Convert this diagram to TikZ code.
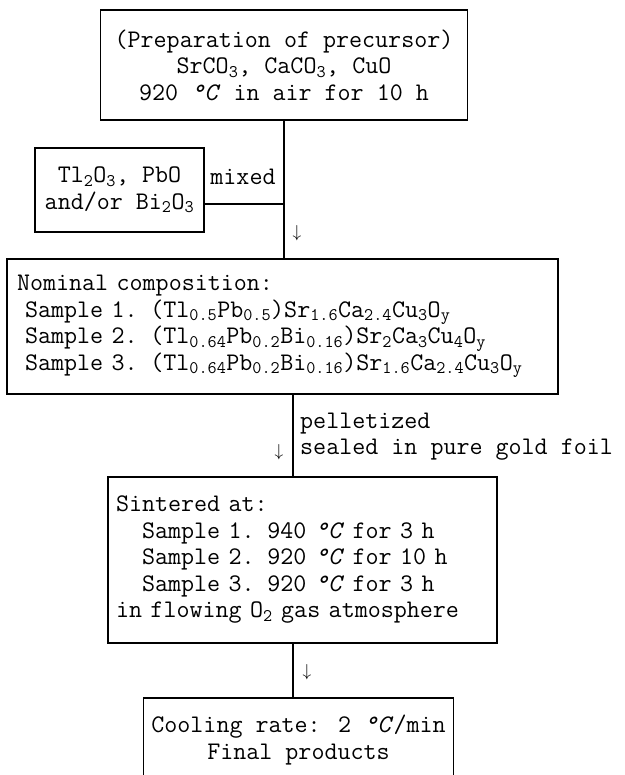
\documentclass[tikz,border=0pt]{standalone}
\newcommand\degC{\textit{°C}}
\tikzset{
  box/.style={draw, line width=1.1pt, inner xsep=8pt, inner ysep=0pt,
    font=\fontsize{25.3}{26.5}\selectfont\ttfamily},
  lbl/.style={inner sep=0pt, font=\fontsize{25.3}{26.5}\selectfont\ttfamily},
  arr/.style={inner sep=0pt, font=\fontsize{19}{19}\selectfont},
  conn/.style={line width=1.1pt}
}
\begin{document}
\begin{tikzpicture}[x=1pt,y=-1pt]
\useasboundingbox (0,0) rectangle (624,775);
\clip (0,0) rectangle (624,775);
% boxes
\node[box, align=center, minimum width=367pt, minimum height=110pt] (prec) at (284,65)
  {(Preparation of precursor)\\SrCO\textsubscript{3}, CaCO\textsubscript{3}, CuO\\920 \degC{} in air for 10 h};
\node[box, align=center, minimum width=169pt, minimum height=84pt] (side) at (119.5,190)
  {Tl\textsubscript{2}O\textsubscript{3}, PbO\\and/or Bi\textsubscript{2}O\textsubscript{3}};
\node[box, align=left, text width=531pt, inner xsep=10pt, minimum height=135pt] (nom) at (282.5,326.5)
  {Nominal composition:\\
   \hspace*{8pt}Sample 1. (Tl\textsubscript{0.5}Pb\textsubscript{0.5})Sr\textsubscript{1.6}Ca\textsubscript{2.4}Cu\textsubscript{3}O\textsubscript{y}\\
   \hspace*{8pt}Sample 2. (Tl\textsubscript{0.64}Pb\textsubscript{0.2}Bi\textsubscript{0.16})Sr\textsubscript{2}Ca\textsubscript{3}Cu\textsubscript{4}O\textsubscript{y}\\
   \hspace*{8pt}Sample 3. (Tl\textsubscript{0.64}Pb\textsubscript{0.2}Bi\textsubscript{0.16})Sr\textsubscript{1.6}Ca\textsubscript{2.4}Cu\textsubscript{3}O\textsubscript{y}};
\node[box, align=left, text width=373pt, minimum height=166pt] (sint) at (302.5,560)
  {Sintered at:\\
   \hspace*{26pt}Sample 1. 940 \degC{} for 3 h\\
   \hspace*{26pt}Sample 2. 920 \degC{} for 10 h\\
   \hspace*{26pt}Sample 3. 920 \degC{} for 3 h\\
   in flowing O\textsubscript{2} gas atmosphere};
\node[box, align=center, minimum width=307pt, minimum height=84pt] (fin) at (298.5,740)
  {Cooling rate: 2 \degC/min\\Final products};
% labels
\node[lbl] (mixed) at (243,177) {mixed};
\node[lbl, align=left, anchor=west] (pel) at (300,436.5) {pelletized\\sealed in pure gold foil};
\node[arr] (a1) at (297,233) {$\downarrow$};
\node[arr] (a2) at (279,452) {$\downarrow$};
\node[arr] (a3) at (307,672) {$\downarrow$};
% connectors
\coordinate (j) at (284,204);
\coordinate (v2) at (293,0);
\draw[conn] (prec.south) -- (prec.south |- nom.north);
\draw[conn] (side.east |- j) -- (j);
\draw[conn] (nom.south -| v2) -- (sint.north -| v2);
\draw[conn] (sint.south -| v2) -- (fin.north -| v2);
\end{tikzpicture}
\end{document}
